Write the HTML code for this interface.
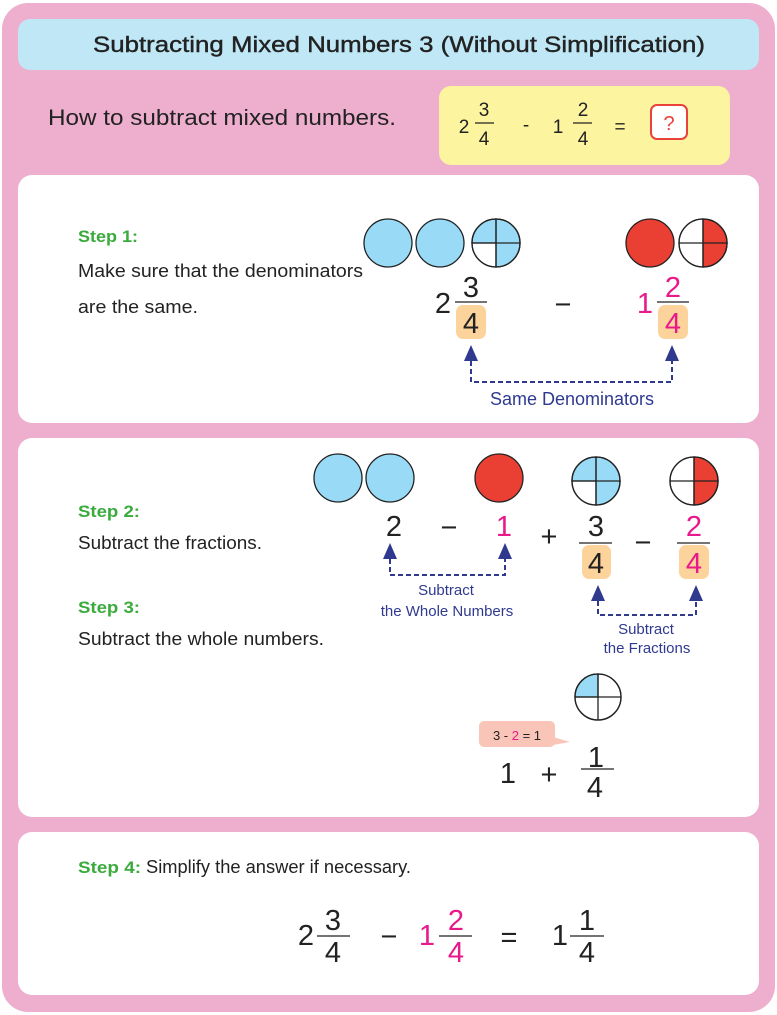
<!DOCTYPE html>
<html><head><meta charset="utf-8"><style>
html,body{margin:0;padding:0;background:#fff;}
svg{display:block;}
text{font-family:"Liberation Sans",sans-serif;}
</style></head><body>
<svg width="777" height="1015" viewBox="0 0 777 1015" xmlns="http://www.w3.org/2000/svg">
<rect x="2" y="3" width="773" height="1009" rx="26" fill="#eeafcf"/>
<rect x="18" y="19" width="741" height="51" rx="12" fill="#bfe7f5"/>
<text x="399" y="52" font-size="22" text-anchor="middle" fill="#222" stroke="#222" stroke-width="0.4" textLength="612" lengthAdjust="spacingAndGlyphs">Subtracting Mixed Numbers 3 (Without Simplification)</text>
<text x="48" y="125" font-size="22" fill="#222" textLength="348" lengthAdjust="spacingAndGlyphs">How to subtract mixed numbers.</text>
<rect x="439" y="86" width="291" height="79" rx="12" fill="#fdf49f"/>
<g font-size="19" fill="#222" text-anchor="middle">
<text x="464" y="133">2</text><text x="484" y="116">3</text><line x1="475" y1="123" x2="494" y2="123" stroke="#222" stroke-width="1.2"/><text x="484" y="145">4</text>
<text x="526" y="131">-</text>
<text x="558" y="133">1</text><text x="583" y="116">2</text><line x1="573" y1="123" x2="592" y2="123" stroke="#222" stroke-width="1.2"/><text x="583" y="145">4</text>
<text x="620" y="133">=</text>
</g>
<rect x="651" y="105" width="36" height="34" rx="6" fill="#fff" stroke="#e8423a" stroke-width="2"/>
<text x="669" y="130" font-size="20" fill="#e8423a" text-anchor="middle">?</text>

<rect x="18" y="175" width="741" height="248" rx="14" fill="#fff"/>
<rect x="18" y="438" width="741" height="379" rx="14" fill="#fff"/>
<rect x="18" y="832" width="741" height="163" rx="14" fill="#fff"/>

<text x="78" y="242" font-size="17" fill="#3aab3c" font-weight="bold" textLength="60" lengthAdjust="spacingAndGlyphs">Step 1:</text>
<text x="78" y="277" font-size="18" fill="#222" textLength="285" lengthAdjust="spacingAndGlyphs">Make sure that the denominators</text>
<text x="78" y="313" font-size="18" fill="#222" textLength="120" lengthAdjust="spacingAndGlyphs">are the same.</text>

<g stroke="#222" stroke-width="1.3">
<circle cx="388" cy="243" r="24" fill="#99dbf6"/>
<circle cx="440" cy="243" r="24" fill="#99dbf6"/>
<circle cx="496" cy="243" r="24" fill="#fff"/>
<path d="M496 243 L496 219 A24 24 0 0 1 520 243 A24 24 0 0 1 496 267 L496 243 L472 243 A24 24 0 0 1 496 219 Z" fill="#99dbf6"/>
<circle cx="496" cy="243" r="24" fill="none"/>
<line x1="472" y1="243" x2="520" y2="243"/><line x1="496" y1="219" x2="496" y2="267"/>
<circle cx="650" cy="243" r="24" fill="#ea4034"/>
<circle cx="703" cy="243" r="24" fill="#fff"/>
<path d="M703 219 A24 24 0 0 1 703 267 Z" fill="#ea4034"/>
<circle cx="703" cy="243" r="24" fill="none"/>
<line x1="679" y1="243" x2="727" y2="243"/><line x1="703" y1="219" x2="703" y2="267"/>
</g>

<g font-size="29" text-anchor="middle">
<text x="443" y="313" fill="#222">2</text>
<text x="471" y="297" fill="#222">3</text>
<line x1="455" y1="302" x2="487" y2="302" stroke="#222" stroke-width="1.3"/>
<rect x="456" y="305" width="30" height="34" rx="7" fill="#fdd39c"/>
<text x="471" y="333" fill="#222">4</text>
<text x="563" y="314" fill="#222">−</text>
<text x="645" y="313" fill="#e8198b">1</text>
<text x="673" y="297" fill="#e8198b">2</text>
<line x1="657" y1="302" x2="689" y2="302" stroke="#222" stroke-width="1.3"/>
<rect x="658" y="305" width="30" height="34" rx="7" fill="#fdd39c"/>
<text x="673" y="333" fill="#e8198b">4</text>
</g>
<g fill="#2f3a8f">
<path d="M471 345 L464 361 L478 361 Z"/><path d="M672 345 L665 361 L679 361 Z"/>
</g>
<path d="M471 361 V382 H672 V361" fill="none" stroke="#2f3a8f" stroke-width="2" stroke-dasharray="5 3"/>
<text x="572" y="405" font-size="18" fill="#2f3a8f" text-anchor="middle">Same Denominators</text>

<text x="78" y="517" font-size="17" fill="#3aab3c" font-weight="bold" textLength="62" lengthAdjust="spacingAndGlyphs">Step 2:</text>
<text x="78" y="549" font-size="18" fill="#222" textLength="184" lengthAdjust="spacingAndGlyphs">Subtract the fractions.</text>
<text x="78" y="613" font-size="17" fill="#3aab3c" font-weight="bold" textLength="62" lengthAdjust="spacingAndGlyphs">Step 3:</text>
<text x="78" y="645" font-size="18" fill="#222" textLength="246" lengthAdjust="spacingAndGlyphs">Subtract the whole numbers.</text>

<g stroke="#222" stroke-width="1.3">
<circle cx="338" cy="478" r="24" fill="#99dbf6"/>
<circle cx="390" cy="478" r="24" fill="#99dbf6"/>
<circle cx="499" cy="478" r="24" fill="#ea4034"/>
<circle cx="596" cy="481" r="24" fill="#fff"/>
<path d="M596 481 L596 457 A24 24 0 0 1 620 481 A24 24 0 0 1 596 505 L596 481 L572 481 A24 24 0 0 1 596 457 Z" fill="#99dbf6"/>
<circle cx="596" cy="481" r="24" fill="none"/>
<line x1="572" y1="481" x2="620" y2="481"/><line x1="596" y1="457" x2="596" y2="505"/>
<circle cx="694" cy="481" r="24" fill="#fff"/>
<path d="M694 457 A24 24 0 0 1 694 505 Z" fill="#ea4034"/>
<circle cx="694" cy="481" r="24" fill="none"/>
<line x1="670" y1="481" x2="718" y2="481"/><line x1="694" y1="457" x2="694" y2="505"/>
</g>

<g font-size="29" text-anchor="middle">
<text x="394" y="536" fill="#222">2</text>
<text x="449" y="537" fill="#222">−</text>
<text x="504" y="536" fill="#e8198b">1</text>
<text x="549" y="546" fill="#222">+</text>
<text x="596" y="536" fill="#222">3</text>
<line x1="579" y1="543" x2="612" y2="543" stroke="#222" stroke-width="1.3"/>
<rect x="582" y="545" width="29" height="34" rx="7" fill="#fdd39c"/>
<text x="596" y="573" fill="#222">4</text>
<text x="643" y="552" fill="#222">−</text>
<text x="694" y="536" fill="#e8198b">2</text>
<line x1="677" y1="543" x2="710" y2="543" stroke="#222" stroke-width="1.3"/>
<rect x="679" y="545" width="30" height="34" rx="7" fill="#fdd39c"/>
<text x="694" y="573" fill="#e8198b">4</text>
</g>
<g fill="#2f3a8f">
<path d="M390 543 L383 559 L397 559 Z"/><path d="M505 543 L498 559 L512 559 Z"/>
<path d="M598 585 L591 601 L605 601 Z"/><path d="M696 585 L689 601 L703 601 Z"/>
</g>
<path d="M390 559 V575 H505 V559" fill="none" stroke="#2f3a8f" stroke-width="2" stroke-dasharray="5 3"/>
<path d="M598 601 V615 H696 V601" fill="none" stroke="#2f3a8f" stroke-width="2" stroke-dasharray="5 3"/>
<g font-size="15" fill="#2f3a8f" text-anchor="middle">
<text x="446" y="595">Subtract</text><text x="447" y="616">the Whole Numbers</text>
<text x="646" y="634">Subtract</text><text x="647" y="653">the Fractions</text>
</g>

<g stroke="#222" stroke-width="1.3">
<circle cx="598" cy="697" r="23" fill="#fff"/>
<path d="M598 697 L575 697 A23 23 0 0 1 598 674 Z" fill="#99dbf6"/>
<circle cx="598" cy="697" r="23" fill="none"/>
<line x1="575" y1="697" x2="621" y2="697"/><line x1="598" y1="674" x2="598" y2="720"/>
</g>
<rect x="479" y="721" width="76" height="26" rx="5" fill="#f9c5b8"/>
<path d="M553 737 L570 742 L553 745 Z" fill="#f9c5b8"/>
<text x="517" y="740" font-size="13" text-anchor="middle" fill="#222">3 - <tspan fill="#e8198b">2</tspan> = 1</text>
<g font-size="29" text-anchor="middle" fill="#222">
<text x="508" y="783">1</text>
<text x="549" y="784">+</text>
<text x="596" y="767">1</text>
<line x1="581" y1="769" x2="614" y2="769" stroke="#222" stroke-width="1.3"/>
<text x="595" y="797">4</text>
</g>

<text x="78" y="873" font-size="17" fill="#3aab3c" font-weight="bold" textLength="63" lengthAdjust="spacingAndGlyphs">Step 4:</text>
<text x="146" y="873" font-size="18" fill="#222" textLength="265" lengthAdjust="spacingAndGlyphs">Simplify the answer if necessary.</text>
<g font-size="29" text-anchor="middle">
<text x="306" y="945" fill="#222">2</text>
<text x="333" y="930" fill="#222">3</text>
<line x1="317" y1="936" x2="350" y2="936" stroke="#222" stroke-width="1.3"/>
<text x="333" y="962" fill="#222">4</text>
<text x="389" y="946" fill="#222">−</text>
<text x="427" y="945" fill="#e8198b">1</text>
<text x="456" y="930" fill="#e8198b">2</text>
<line x1="439" y1="936" x2="472" y2="936" stroke="#222" stroke-width="1.3"/>
<text x="456" y="962" fill="#e8198b">4</text>
<text x="509" y="947" fill="#222">=</text>
<text x="560" y="945" fill="#222">1</text>
<text x="587" y="930" fill="#222">1</text>
<line x1="570" y1="936" x2="604" y2="936" stroke="#222" stroke-width="1.3"/>
<text x="587" y="962" fill="#222">4</text>
</g>
</svg>
</body></html>
